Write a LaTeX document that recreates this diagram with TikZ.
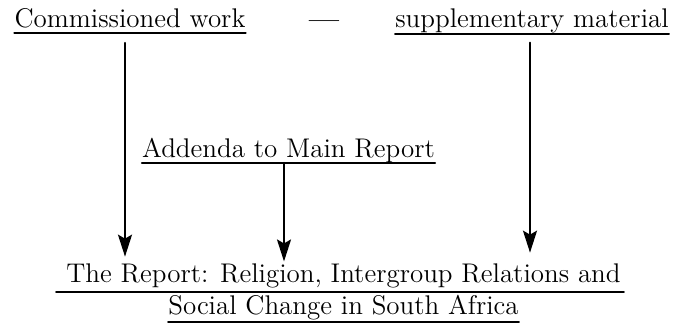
\documentclass[tikz,border=0pt]{standalone}
\usetikzlibrary{arrows.meta}
\begin{document}
\begin{tikzpicture}[x=0.5pt,y=-0.5pt,>={Stealth[length=11pt,width=7pt,inset=2pt]},
	font=\fontsize{13.5}{16}\selectfont, line join=round, line cap=round]
	\tikzset{txt/.style={anchor=base,inner sep=0pt},
		uline/.style={line width=0.8pt},
		arr/.style={->,line width=1pt}}
	\useasboundingbox (0,0) rectangle (674,324);
	% top row
	\node[txt] (comm) at (130,28) {Commissioned work};
	\node[txt,font=\fontsize{13.5}{16}\selectfont\bfseries] (dash) at (324,29) {---};
	\node[txt] (supp) at (532,28) {supplementary material};
	% middle
	\node[txt] (add) at (288.5,158) {Addenda to Main Report};
	% bottom, two lines
	\node[txt] (rep1) at (343.5,283) {The Report: Religion, Intergroup Relations and};
	\node[txt] (rep2) at (343.5,315) {Social Change in South Africa};
	% underlines
	\draw[uline] ([yshift=-2.5pt]comm.base west) -- ([yshift=-2.5pt]comm.base east);
	\draw[uline] ([yshift=-3pt]supp.base west) -- ([yshift=-3pt]supp.base east);
	\draw[uline] ([yshift=-2.5pt]add.base west) -- ([yshift=-2.5pt]add.base east);
	\draw[uline] ([xshift=-5pt,yshift=-4.5pt]rep1.base west) -- ([xshift=1.5pt,yshift=-4.5pt]rep1.base east);
	\draw[uline] ([yshift=-3.5pt]rep2.base west) -- ([yshift=-3.5pt]rep2.base east);
	% arrows into the report
	\draw[arr] ([xshift=-2.5pt,yshift=-7pt]comm.south) -- ([xshift=-2.5pt,yshift=3.6pt]comm.south |- rep1.north);
	\draw[arr] ([xshift=-2.25pt,yshift=-2.5pt]add.base) -- ([xshift=-2.25pt,yshift=1.2pt]add.south |- rep1.north);
	\draw[arr] ([xshift=-1pt,yshift=-4.4pt]supp.south) -- ([xshift=-1pt,yshift=5.6pt]supp.south |- rep1.north);
\end{tikzpicture}
\end{document}
